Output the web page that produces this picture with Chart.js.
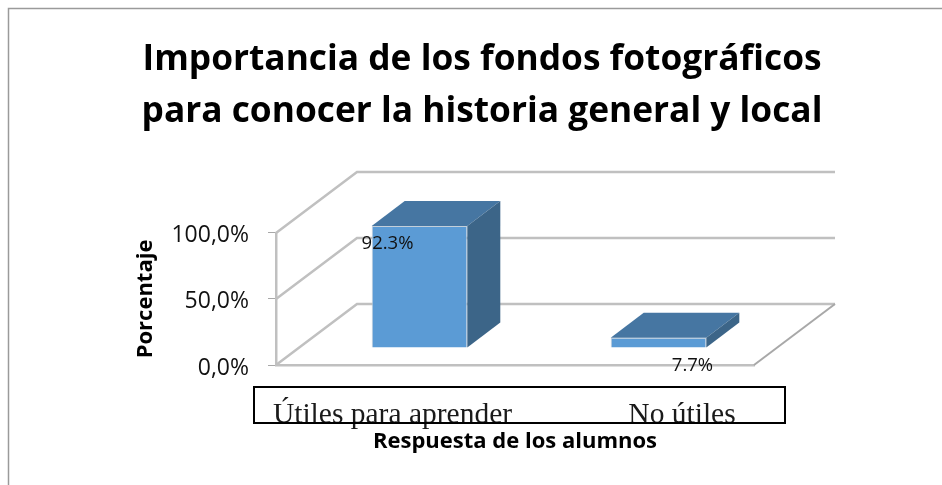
<!DOCTYPE html>
<html><head><meta charset="utf-8">
<style>html,body{margin:0;padding:0;background:#fff}#w{position:relative;width:942px;height:485px}</style>
<script src="https://cdn.jsdelivr.net/npm/chart.js@4"></script>
</head><body><div id="w"><canvas id="c"></canvas></div>
<script>
const categories = ['Útiles para aprender', 'No útiles'];
const values = [92.3, 7.7];
const valueLabels = ['92.3%', '7.7%'];
const titleLines = ['Importancia de los fondos fotográficos', 'para conocer la historia general y local'];
const yTitle = 'Porcentaje';
const xTitle = 'Respuesta de los alumnos';

const SANS = '"Open Sans", "Noto Sans", sans-serif';
const WALL = {dx: 81, dy: -61};
const BAR_SHIFT = {dx: 24, dy: -17};
const BAR_DEPTH = {dx: 33, dy: -25};
const LABEL_SHIFT = [{dx: -8, dy: 0}, {dx: 58, dy: 0}];
const LABEL_Y = [244, 366];
const CAT_SHIFT = [-3, 47.5];
const GRID = '#c0c0c0';

const decor = {
  id: 'decor',
  beforeDraw(chart) {
    const c = chart.ctx;
    c.save();
    c.strokeStyle = '#9a9a9a'; c.lineWidth = 1.5;
    c.beginPath(); c.moveTo(8.5, 485); c.lineTo(8.5, 8.5); c.lineTo(942, 8.5); c.stroke();
    c.restore();
  },
  beforeDatasetsDraw(chart) {
    const c = chart.ctx, y = chart.scales.y, a = chart.chartArea;
    c.save();
    c.strokeStyle = GRID; c.lineWidth = 2.5;
    y.ticks.forEach(t => {
      const py = y.getPixelForValue(t.value);
      c.beginPath();
      c.moveTo(a.left, py);
      c.lineTo(a.left + WALL.dx, py + WALL.dy);
      c.lineTo(a.right + WALL.dx, py + WALL.dy);
      c.stroke();
    });
    const p0 = y.getPixelForValue(0);
    c.strokeStyle = '#a8a8a8'; c.lineWidth = 2;
    c.beginPath();
    c.moveTo(a.right, p0);
    c.lineTo(a.right + WALL.dx, p0 + WALL.dy);
    c.stroke();
    c.restore();
    c.save();
    c.translate(BAR_SHIFT.dx, BAR_SHIFT.dy);
  },
  afterDatasetsDraw(chart) {
    const c = chart.ctx;
    c.restore();
    const bars = chart.getDatasetMeta(0).data;
    const xs = chart.scales.x;
    bars.forEach((b, i) => {
      const p = b.getProps(['x', 'y', 'base', 'width'], true);
      const l = p.x - p.width / 2 + BAR_SHIFT.dx, r = l + p.width;
      const t = p.y + BAR_SHIFT.dy, m = p.base + BAR_SHIFT.dy;
      const D = BAR_DEPTH;
      c.fillStyle = '#4676A2';
      c.beginPath(); c.moveTo(l, t); c.lineTo(l + D.dx, t + D.dy); c.lineTo(r + D.dx, t + D.dy); c.lineTo(r, t); c.closePath(); c.fill();
      c.fillStyle = '#3C6588';
      c.beginPath(); c.moveTo(r, t); c.lineTo(r + D.dx, t + D.dy); c.lineTo(r + D.dx, m + D.dy); c.lineTo(r, m); c.closePath(); c.fill();
    });
    c.save();
    c.fillStyle = '#111';
    c.font = '18.5px ' + SANS;
    c.textAlign = 'center'; c.textBaseline = 'middle';
    bars.forEach((b, i) => {
      c.fillText(valueLabels[i], b.x + LABEL_SHIFT[i].dx, LABEL_Y[i]);
    });
    c.fillStyle = '#1a1a1a';
    c.font = '29.5px "Liberation Serif", serif';
    c.textBaseline = 'alphabetic';
    categories.forEach((lab, i) => {
      c.fillText(lab, xs.getPixelForValue(i) + CAT_SHIFT[i], 423);
    });
    c.strokeStyle = '#000'; c.lineWidth = 2;
    c.strokeRect(254, 387, 531, 36);
    c.restore();
  }
};

new Chart(document.getElementById('c'), {
  type: 'bar',
  data: {
    labels: categories,
    datasets: [{
      data: values,
      backgroundColor: '#5B9BD5',
      borderColor: '#c3cfda',
      borderWidth: 1,
      barPercentage: 0.4,
      categoryPercentage: 1
    }]
  },
  plugins: [decor],
  options: {
    responsive: true,
    maintainAspectRatio: false,
    animation: false,
    layout: {padding: {left: 22, right: 0, top: 0, bottom: 0}},
    plugins: {
      legend: {display: false},
      tooltip: {enabled: false},
      title: {
        display: true,
        text: titleLines,
        color: '#000',
        font: {family: SANS, size: 35.3, weight: 'bold', lineHeight: 1.5},
        padding: {top: 33, bottom: 94}
      }
    },
    scales: {
      x: {
        grid: {display: false, drawTicks: false},
        border: {display: true, color: GRID, width: 2.5},
        ticks: {display: false},
        title: {display: true, text: xTitle, color: '#000',
          font: {family: SANS, size: 22, weight: 'bold', lineHeight: 1.2},
          padding: {top: 0, bottom: 30}},
        afterFit(s) { s.height = 120; }
      },
      y: {
        min: 0, max: 100,
        position: 'left',
        grid: {drawOnChartArea: false, drawTicks: true, tickLength: 8, tickColor: '#a8a8a8', tickWidth: 1},
        border: {display: true, color: GRID, width: 2.5},
        ticks: {stepSize: 50, padding: 19, labelOffset: 3, color: '#111',
          font: {family: SANS, size: 23},
          callback: v => v.toFixed(1).replace('.', ',') + '%'},
        title: {display: true, text: yTitle, color: '#000',
          font: {family: SANS, size: 22, weight: 'bold', lineHeight: 1.2},
          padding: {top: 111, bottom: 0}},
        afterFit(s) { s.width = 254; }
      },
      y2: {
        position: 'right',
        display: true,
        grid: {display: false},
        border: {display: false},
        ticks: {display: false},
        afterFit(s) { s.width = 188; }
      }
    }
  }
});
</script>
</body></html>
